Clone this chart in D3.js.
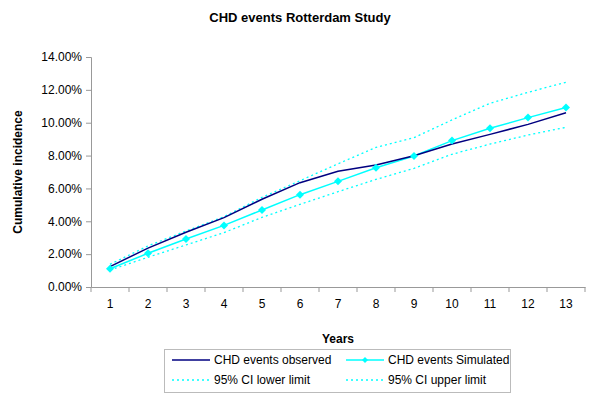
<!DOCTYPE html>
<html>
<head>
<meta charset="utf-8">
<style>
body { margin: 0; background: #fff; }
svg { font-family: "Liberation Sans", Arial, sans-serif; }
</style>
</head>
<body>
<svg width="600" height="402"></svg>
<script src="https://cdn.jsdelivr.net/npm/d3@7/dist/d3.min.js"></script>
<script>
// chart data (cumulative incidence, %)
var years = [1, 2, 3, 4, 5, 6, 7, 8, 9, 10, 11, 12, 13];
var observed  = [1.24, 2.37, 3.33, 4.22, 5.34, 6.35, 7.04, 7.43, 7.99, 8.70, 9.29, 9.90, 10.61];
var simulated = [1.11, 2.05, 2.92, 3.75, 4.69, 5.62, 6.43, 7.26, 7.97, 8.91, 9.66, 10.31, 10.92];
var ciLower   = [1.03, 1.81, 2.56, 3.31, 4.24, 5.03, 5.80, 6.55, 7.22, 8.08, 8.70, 9.25, 9.72];
var ciUpper   = [1.38, 2.50, 3.41, 4.28, 5.46, 6.47, 7.50, 8.50, 9.09, 10.17, 11.18, 11.85, 12.46];
var yTicks = [0, 2, 4, 6, 8, 10, 12, 14];

var svg = d3.select("svg");
var plotLeft = 91, plotRight = 585, plotTop = 57, plotBottom = 287;

var x = d3.scaleBand().domain(years).range([plotLeft, plotRight]);
var y = d3.scaleLinear().domain([0, 14]).range([plotBottom, plotTop]);
var cx = function(d, i) { return x(years[i]) + x.bandwidth() / 2; };

// excel style square diamond
function diamondPath(r) {
    return "M0," + (-r) + "L" + r + ",0L0," + r + "L" + (-r) + ",0Z";
}

// title
svg.append("text")
    .attr("x", 300).attr("y", 22)
    .attr("text-anchor", "middle")
    .style("font-size", "13px").style("font-weight", "bold")
    .text("CHD events Rotterdam Study");

// y axis
var yAxis = svg.append("g")
    .attr("transform", "translate(" + plotLeft + ",0)")
    .call(d3.axisLeft(y).tickValues(yTicks).tickSize(5).tickPadding(4)
        .tickFormat(function(d) { return d.toFixed(2) + "%"; }));
yAxis.selectAll("text").style("font-size", "12px").style("fill", "#000");

// x axis, ticks sit between categories
var xAxis = svg.append("g")
    .attr("transform", "translate(0," + plotBottom + ")")
    .call(d3.axisBottom(x).tickSize(0).tickPadding(12));
xAxis.selectAll("text").style("font-size", "12px").style("fill", "#000");
xAxis.selectAll(".sep")
    .data(years.concat([14]))
    .enter().append("line")
    .attr("class", "sep")
    .attr("x1", function(d, i) { return plotLeft + i * x.bandwidth(); })
    .attr("x2", function(d, i) { return plotLeft + i * x.bandwidth(); })
    .attr("y1", 0).attr("y2", 5)
    .attr("stroke", "#999");
svg.selectAll(".domain").attr("stroke", "#999");
svg.selectAll(".tick line").attr("stroke", "#999");

// axis titles
svg.append("text")
    .attr("x", 338).attr("y", 343)
    .attr("text-anchor", "middle")
    .style("font-size", "12px").style("font-weight", "bold")
    .text("Years");
svg.append("text")
    .attr("transform", "translate(22,172) rotate(-90)")
    .attr("text-anchor", "middle")
    .style("font-size", "12px").style("font-weight", "bold")
    .text("Cumulative incidence");

var line = d3.line().x(cx).y(function(d) { return y(d); });

// lines
svg.append("path").datum(ciLower)
    .attr("d", line).attr("fill", "none")
    .attr("stroke", "#00FFFF").attr("stroke-width", 1.3).attr("stroke-dasharray", "2,3");
svg.append("path").datum(ciUpper)
    .attr("d", line).attr("fill", "none")
    .attr("stroke", "#00FFFF").attr("stroke-width", 1.3).attr("stroke-dasharray", "2,3");
svg.append("path").datum(simulated)
    .attr("d", line).attr("fill", "none")
    .attr("stroke", "#00FFFF").attr("stroke-width", 1.5);
svg.append("path").datum(observed)
    .attr("d", line).attr("fill", "none")
    .attr("stroke", "#000080").attr("stroke-width", 1.5);

svg.selectAll(".sim")
    .data(simulated)
    .enter().append("path")
    .attr("class", "sim")
    .attr("d", diamondPath(4))
    .attr("transform", function(d, i) { return "translate(" + cx(d, i) + "," + y(d) + ")"; })
    .attr("fill", "#00FFFF");

// legend
var legend = svg.append("g");
legend.append("rect")
    .attr("x", 164.5).attr("y", 349.5).attr("width", 346).attr("height", 43)
    .attr("fill", "#fff").attr("stroke", "#bbb");
var items = [
    {label: "CHD events observed", color: "#000080", dash: null, marker: false, x: 172, y: 360},
    {label: "CHD events Simulated", color: "#00FFFF", dash: null, marker: true, x: 346, y: 360},
    {label: "95% CI lower limit", color: "#00FFFF", dash: "2,3", marker: false, x: 172, y: 380},
    {label: "95% CI upper limit", color: "#00FFFF", dash: "2,3", marker: false, x: 346, y: 380}
];
items.forEach(function(it) {
    legend.append("line")
        .attr("x1", it.x).attr("x2", it.x + 38)
        .attr("y1", it.y).attr("y2", it.y)
        .attr("stroke", it.color).attr("stroke-width", 1.3)
        .attr("stroke-dasharray", it.dash);
    if (it.marker) {
        legend.append("path")
            .attr("d", diamondPath(3))
            .attr("transform", "translate(" + (it.x + 19) + "," + it.y + ")")
            .attr("fill", it.color);
    }
    legend.append("text")
        .attr("x", it.x + 42).attr("y", it.y + 4)
        .style("font-size", "12px")
        .text(it.label);
});
</script>
</body>
</html>
